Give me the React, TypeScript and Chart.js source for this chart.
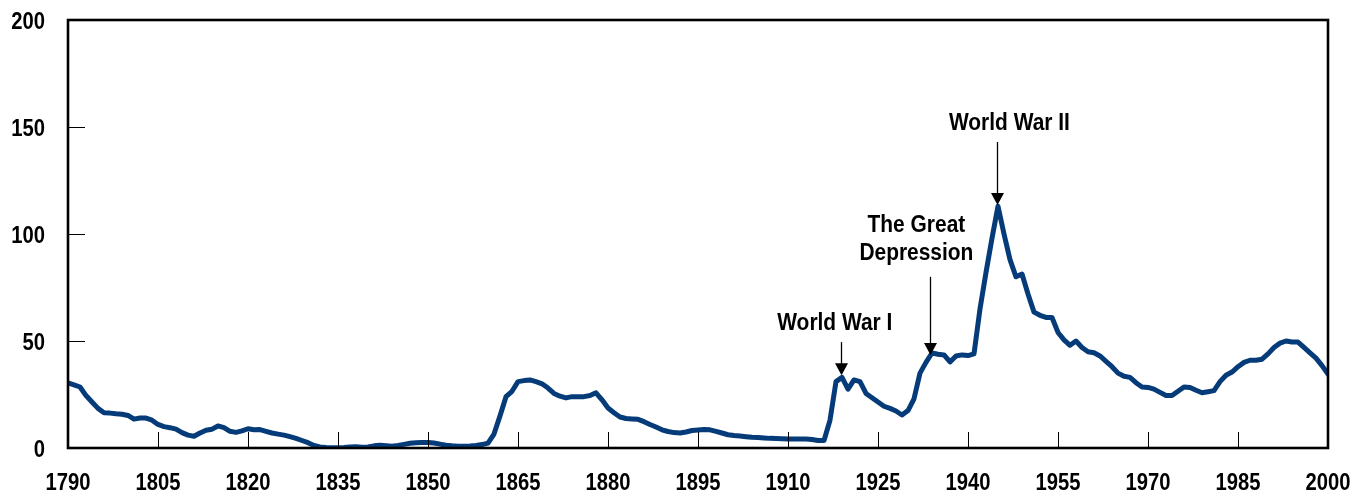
import React, { useEffect, useRef } from "react";
import { Chart, registerables } from "chart.js";

Chart.register(...registerables);

const startYear = 1790;
const endYear = 2000;

// Debt as % of GDP, one value per year 1790..2000
const debtValues: number[] = [
  // 1790-1799
  30.4, 29.5, 28.5, 24.5, 21.5, 18.5, 16.5, 16.3, 16.0, 15.8,
  // 1800-1809
  15.2, 13.5, 14.0, 14.0, 13.0, 11.0, 10.0, 9.5, 8.8, 7.2,
  // 1810-1819
  6.0, 5.5, 7.0, 8.3, 8.8, 10.3, 9.5, 7.8, 7.3, 8.0,
  // 1820-1829
  9.0, 8.5, 8.6, 7.8, 7.0, 6.5, 6.0, 5.3, 4.5, 3.5,
  // 1830-1839
  2.5, 1.2, 0.5, 0.2, 0.1, 0.1, 0.2, 0.5, 0.6, 0.4,
  // 1840-1849
  0.5, 1.0, 1.3, 1.1, 0.8, 1.2, 1.7, 2.2, 2.5, 2.6,
  // 1850-1859
  2.6, 2.3, 1.8, 1.3, 1.0, 0.8, 0.8, 0.9, 1.2, 1.6,
  // 1860-1869
  2.3, 6.5, 15.0, 24.0, 26.5, 31.0, 31.5, 31.8, 31.0, 30.0,
  // 1870-1879
  28.0, 25.5, 24.2, 23.4, 24.0, 24.0, 24.0, 24.5, 25.8, 22.5,
  // 1880-1889
  18.7, 16.5, 14.5, 13.8, 13.6, 13.4, 12.3, 11.0, 9.8, 8.5,
  // 1890-1899
  7.7, 7.2, 7.0, 7.5, 8.2, 8.4, 8.6, 8.5, 7.8, 7.0,
  // 1900-1909
  6.2, 5.8, 5.6, 5.3, 5.0, 4.9, 4.7, 4.5, 4.4, 4.3,
  // 1910-1919
  4.2, 4.2, 4.2, 4.2, 4.0, 3.5, 3.5, 13.0, 31.0, 33.0,
  // 1920-1929
  27.5, 31.8, 31.0, 25.5, 23.5, 21.5, 19.5, 18.5, 17.3, 15.4,
  // 1930-1939
  17.5, 23.0, 35.0, 40.0, 44.4, 43.8, 43.5, 40.2, 43.0, 43.5,
  // 1940-1949
  43.2, 44.0, 65.0, 82.0, 98.0, 113.0, 100.0, 88.0, 80.0, 81.3,
  // 1950-1959
  72.0, 63.5, 62.0, 61.0, 61.0, 54.0, 50.5, 48.0, 50.0, 47.0,
  // 1960-1969
  45.0, 44.5, 43.0, 40.5, 38.0, 35.0, 33.5, 33.0, 30.5, 28.5,
  // 1970-1979
  28.3, 27.5, 26.0, 24.5, 24.5, 26.5, 28.5, 28.3, 27.0, 25.8,
  // 1980-1989
  26.3, 26.8, 31.0, 34.0, 35.5, 38.0, 40.0, 41.0, 41.0, 41.5,
  // 1990-1999
  44.0, 47.0, 49.0, 50.0, 49.5, 49.5, 47.0, 44.5, 42.0, 38.5,
  // 2000
  34.5,
];

const years: number[] = debtValues.map((_, i) => startYear + i);

const yTickValues: number[] = [0, 50, 100, 150, 200];
const xTickYears: number[] = [1790, 1805, 1820, 1835, 1850, 1865, 1880, 1895, 1910, 1925, 1940, 1955, 1970, 1985, 2000];

// Annotations (data coordinates): label lines, arrow year, arrow tip value, arrow top value, label year, baseline value of first line
const annotationTexts: string[][] = [["World War I"], ["The Great", "Depression"], ["World War II"]];
const annotationArrowYears: number[] = [1918.8, 1933.7, 1944.8];
const annotationTipValues: number[] = [34, 43.5, 113.5];
const annotationTopValues: number[] = [49.5, 80, 143];
const annotationLabelYears: number[] = [1917.8, 1931.4, 1946.9];
const annotationLabelValues: number[] = [55.1, 100.9, 148.6];

const FONT = '"Liberation Sans", Arial, sans-serif';
const LINE_COLOR = "#063b7a";

function drawSqueezed(ctx: CanvasRenderingContext2D, text: string, x: number, y: number, squeeze: number) {
  ctx.save();
  ctx.translate(x, y);
  ctx.scale(squeeze, 1);
  ctx.fillText(text, 0, 0);
  ctx.restore();
}

const framePlugin = {
  id: "frameAndNotes",
  afterDraw(chart: any) {
    const { ctx, chartArea, scales } = chart;
    const { left, right, top, bottom } = chartArea;
    const xs = scales.x;
    const ys = scales.y;
    ctx.save();
    ctx.strokeStyle = "#000";
    ctx.lineWidth = 1;
    ctx.beginPath();
    yTickValues.forEach((v) => {
      if (v <= 0 || v >= 200) return;
      const py = Math.round(ys.getPixelForValue(v)) + 0.5;
      ctx.moveTo(left, py);
      ctx.lineTo(left + 17, py);
    });
    xTickYears.forEach((yr) => {
      if (yr <= startYear || yr >= endYear) return;
      const px = Math.round(xs.getPixelForValue(yr)) + 0.5;
      ctx.moveTo(px, bottom);
      ctx.lineTo(px, bottom - 16);
    });
    ctx.stroke();

    ctx.lineWidth = 2.6;
    ctx.strokeRect(left, top, right - left, bottom - top);

    ctx.fillStyle = "#000";
    ctx.font = `bold 23px ${FONT}`;
    ctx.textBaseline = "alphabetic";

    // tick labels
    ctx.textAlign = "right";
    yTickValues.forEach((v) => {
      drawSqueezed(ctx, String(v), left - 23, ys.getPixelForValue(v) + 8.5, 0.88);
    });
    ctx.textAlign = "center";
    xTickYears.forEach((yr) => {
      drawSqueezed(ctx, String(yr), xs.getPixelForValue(yr), bottom + 42, 0.88);
    });

    // annotations
    annotationTexts.forEach((lines, i) => {
      const lx = xs.getPixelForValue(annotationLabelYears[i]);
      const ly = ys.getPixelForValue(annotationLabelValues[i]);
      lines.forEach((t, j) => drawSqueezed(ctx, t, lx, ly + j * 28, 0.91));
      const ax = Math.round(xs.getPixelForValue(annotationArrowYears[i])) + 0.5;
      const tipY = ys.getPixelForValue(annotationTipValues[i]);
      const topY = ys.getPixelForValue(annotationTopValues[i]);
      ctx.lineWidth = 1.3;
      ctx.beginPath();
      ctx.moveTo(ax, topY);
      ctx.lineTo(ax, tipY - 10);
      ctx.stroke();
      ctx.beginPath();
      ctx.moveTo(ax, tipY);
      ctx.lineTo(ax - 6.5, tipY - 12);
      ctx.lineTo(ax + 6.5, tipY - 12);
      ctx.closePath();
      ctx.fill();
    });
    ctx.restore();
  },
};

export default function App() {
  const canvasRef = useRef<HTMLCanvasElement | null>(null);

  useEffect(() => {
    if (!canvasRef.current) return;
    const chart = new Chart(canvasRef.current, {
      type: "line",
      data: {
        datasets: [
          {
            data: years.map((yr, i) => ({ x: yr, y: debtValues[i] })),
            borderColor: LINE_COLOR,
            borderWidth: 5,
            pointRadius: 0,
            tension: 0,
            borderJoinStyle: "round",
            borderCapStyle: "round",
            fill: false,
          },
        ],
      },
      options: {
        responsive: false,
        animation: false,
        layout: { padding: { top: 20, right: 36, left: 68, bottom: 45 } },
        plugins: {
          legend: { display: false },
          tooltip: { enabled: false },
        },
        scales: {
          x: { type: "linear", min: startYear, max: endYear, display: false },
          y: { type: "linear", min: 0, max: 200, display: false },
        },
      },
      plugins: [framePlugin],
    });
    return () => chart.destroy();
  }, []);

  return (
    <div style={{ position: "absolute", left: 0, top: 0, width: 1364, height: 493, background: "#fff" }}>
      <canvas ref={canvasRef} width={1364} height={493} />
    </div>
  );
}
